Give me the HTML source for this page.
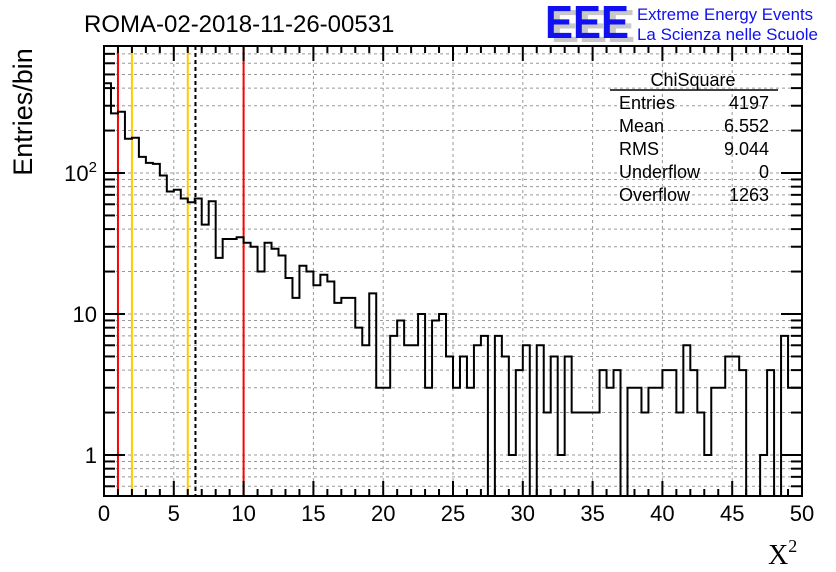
<!DOCTYPE html>
<html><head><meta charset="utf-8"><style>
body{margin:0;background:#fff;width:836px;height:572px;overflow:hidden}
svg{display:block;font-family:"Liberation Sans",sans-serif}
</style></head><body>
<svg id="c" width="836" height="572"></svg>
<script>
const counts=[433,265,272,175,178,130,118,116,96,74,76,66,62,66,43,63,25,34,34,35,32,30,20,32,29,26,18,13,22,20,16,19,17,12,13,13,8,6,14,3,3,7,9,6,6,10,3,9,10,5,3,5,3,6,7,0,7,5,1,4,6,0,6,2,5,1,5,2,2,2,2,4,3,4,0,3,3,2,3,3,4,4,2,6,4,2,1,3,3,5,5,4,0,0,1,4,0,7,3,3];
const binWidth=0.5;
const xTicks=[0,5,10,15,20,25,30,35,40,45,50];
const vlines=[{v:1,c:"#f00",d:""},{v:2,c:"#fc0",d:""},{v:6,c:"#fc0",d:""},{v:6.552,c:"#000",d:"4,3"},{v:10,c:"#f00",d:""}];
const statLabels=["Entries","Mean","RMS","Underflow","Overflow"];
const statValues=["4197","6.552","9.044","0","1263"];
const L=104,R=802,T=46,B=496;
const yMin=0.51,yMax=795;
const X=v=>L+(v/50)*(R-L);
const Y=v=>455-141*Math.log10(v);
const s=document.getElementById('c');
const NS="http://www.w3.org/2000/svg";
function mk(t,a,txt,name,p){const e=document.createElementNS(NS,t);for(const k in a)e.setAttribute(k,a[k]);if(txt!=null)e.textContent=txt;


(p||s).appendChild(e);return e;}
const grid=mk('g',{stroke:"#999","stroke-dasharray":"3,3","stroke-width":1},null,'grid');
xTicks.forEach(t=>{if(t>0&&t<50)mk('line',{x1:X(t),x2:X(t),y1:T,y2:B},null,'x-grid-line',grid);});
const yLevels=[];[0.1,1,10,100].forEach(d=>{for(let m=1;m<10;m++)yLevels.push(d*m);});
yLevels.forEach(v=>{if(v>yMin&&v<yMax){const y=Y(v);mk('line',{x1:L,x2:R,y1:y,y2:y},null,'y-grid-line',grid);}});
vlines.forEach(l=>{const a={x1:X(l.v),x2:X(l.v),y1:T,y2:B,stroke:l.c,"stroke-width":2};if(l.d)a["stroke-dasharray"]=l.d;mk('line',a,null,'reference-line',s);});
let d="M"+X(0)+","+B;
counts.forEach((c,i)=>{const y=c>0?Math.max(Y(c),T):B;d+=" L"+X(i*binWidth)+","+y+" L"+X((i+1)*binWidth)+","+y;});
d+=" L"+X(50)+","+B;
mk('path',{d:d,fill:"none",stroke:"#000","stroke-width":2},null,'histogram-series',s);
mk('rect',{x:L,y:T,width:R-L,height:B-T,fill:"none",stroke:"#000","stroke-width":2},null,'plot-frame',s);
const tk=mk('g',{stroke:"#000","stroke-width":2},null,'ticks');
for(let v=0;v<=50;v+=1){const M=v%5==0,len=M?15:7;const x=X(v);
mk('line',{x1:x,x2:x,y1:B,y2:B-len},null,'x-tick',tk);mk('line',{x1:x,x2:x,y1:T,y2:T+len},null,'x-tick-top',tk);}
yLevels.forEach(v=>{if(v>yMin&&v<yMax){const y=Y(v);const M=[1,10,100].includes(v);const len=M?21:11;
mk('line',{x1:L,x2:L+len,y1:y,y2:y},null,'y-tick',tk);mk('line',{x1:R,x2:R-len,y1:y,y2:y},null,'y-tick-right',tk);}});
xTicks.forEach(t=>mk('text',{x:X(t),y:521,"font-size":22,"text-anchor":"middle"},String(t),'x-tick-label',s));
mk('text',{x:97,y:463,"font-size":22,"text-anchor":"end"},"1",'y-tick-label',s);
mk('text',{x:97,y:322,"font-size":22,"text-anchor":"end"},"10",'y-tick-label',s);
const t2=mk('text',{x:97,y:181,"font-size":22,"text-anchor":"end"},null,'y-tick-label',s);
t2.innerHTML='10<tspan font-size="15" dy="-9">2</tspan>';
mk('text',{x:0,y:0,"font-size":27,transform:"translate(32,112) rotate(-90)","text-anchor":"middle"},"Entries/bin",'y-axis-title',s);
const xt=mk('text',{x:768,y:564,"font-size":28,"font-family":"Liberation Serif,serif"},null,'x-axis-title',s);
xt.innerHTML='X<tspan font-size="18" dy="-12">2</tspan>';
mk('text',{x:84,y:32,"font-size":24},"ROMA-02-2018-11-26-00531",'chart-title',s);
mk('text',{x:551,y:42,"font-size":46,"font-weight":"bold",fill:"#c8c8c8",textLength:84,lengthAdjust:"spacingAndGlyphs"},"EEE",'logo-shadow',s);
mk('text',{x:545,y:38,"font-size":46,"font-weight":"bold",fill:"#1010f0",textLength:84,lengthAdjust:"spacingAndGlyphs"},"EEE",'logo',s);
mk('text',{x:637,y:20,"font-size":17,fill:"#1010f0",textLength:176,lengthAdjust:"spacingAndGlyphs"},"Extreme Energy Events",'logo-subtitle',s);
mk('text',{x:637,y:40,"font-size":17,fill:"#1010f0",textLength:181,lengthAdjust:"spacingAndGlyphs"},"La Scienza nelle Scuole",'logo-subtitle',s);
const st=mk('g',{},null,'stats-box');
mk('text',{x:693,y:86,"font-size":18,"text-anchor":"middle"},"ChiSquare",'stats-title',st);
mk('line',{x1:610,x2:778,y1:90,y2:90,stroke:"#000","stroke-width":1.5},null,'stats-underline',st);
statLabels.forEach((l,i)=>{const y=109+i*23;
mk('text',{x:619,y:y,"font-size":18},l,'stats-label',st);
mk('text',{x:769,y:y,"font-size":18,"text-anchor":"end"},statValues[i],'stats-value',st);});
</script>
</body></html>
